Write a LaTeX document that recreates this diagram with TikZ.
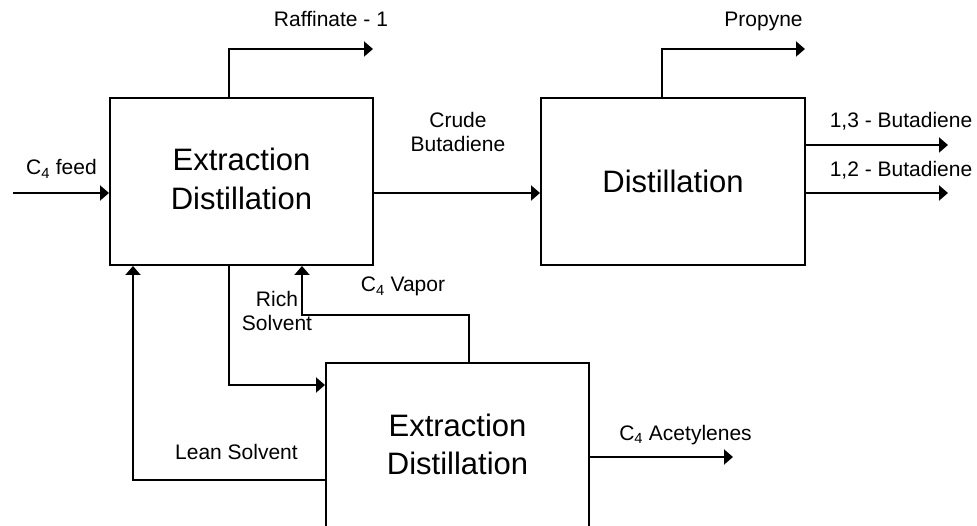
\documentclass[tikz,border=0pt]{standalone}
\usepackage{fontspec}
\setmainfont{Liberation Sans}
\usetikzlibrary{arrows.meta}
\begin{document}
\begin{tikzpicture}[x=1pt,y=-1pt,
  unitbox/.style={draw,line width=2pt,inner sep=0pt,align=center,
    font=\fontsize{31}{38.5}\selectfont},
  lbl/.style={inner sep=0pt,anchor=base,align=center,
    font=\fontsize{21}{24.5}\selectfont},
  flow/.style={line width=2pt,-{Triangle[length=9pt,width=15pt]}}]
\useasboundingbox (0,0) rectangle (977,526);
% units
\node[unitbox,minimum width=263pt,minimum height=167pt,text depth=5pt] (box1) at (241.5,181.5) {Extraction\\Distillation};
\node[unitbox,minimum width=264pt,minimum height=167pt] (box2) at (673,181.5) {Distillation};
\node[unitbox,minimum width=263pt,minimum height=170pt,text depth=7pt,anchor=north] (box3) at (457.5,362) {Extraction\\Distillation};
% helper coordinates
\coordinate (feedin) at (13,193);
\coordinate (raffturn) at (229,49);
\coordinate (raffend) at (373,49);
\coordinate (propturn) at (662,49);
\coordinate (propend) at (805,49);
\coordinate (b13end) at (948,145);
\coordinate (b12end) at (948,193);
\coordinate (leanc) at (133,480);
\coordinate (richc) at (229,385);
\coordinate (vapc) at (469,315);
\coordinate (vapc2) at (302,315);
\coordinate (acend) at (733,457);
% connectors
\draw[flow] (feedin) -- (feedin -| box1.west);
\draw[flow] (box1.north -| raffturn) |- (raffend);
\draw[flow] (box1.east |- feedin) -- (box2.west |- feedin);
\draw[flow] (box2.north -| propturn) |- (propend);
\draw[flow] (box2.east |- b13end) -- (b13end);
\draw[flow] (box2.east |- b12end) -- (b12end);
\draw[flow] (box3.west |- leanc) -| (box1.south -| leanc);
\draw[flow] (box1.south -| richc) |- (box3.west |- richc);
\draw[flow] (box3.north -| vapc) |- (vapc2) -- (box1.south -| vapc2);
\draw[flow] (box3.east |- acend) -- (acend);
% labels
\node[lbl] (lfeed) at (61.5,175) {C\textsubscript{4} feed};
\node[lbl] (lraff) at (331,27) {Raffinate - 1};
\node[lbl] (lcrude) at (458,152) {Crude\\Butadiene};
\node[lbl] (lprop) at (763.5,27) {Propyne};
\node[lbl] (l13) at (901,128) {1,3 - Butadiene};
\node[lbl] (l12) at (901,177) {1,2 - Butadiene};
\node[lbl] (lvap) at (403,292) {C\textsubscript{4} Vapor};
\node[lbl] (lrich) at (277,331) {Rich\\Solvent};
\node[lbl] (llean) at (236.5,459) {Lean Solvent};
\node[lbl] (lacet) at (685.5,440) {C\textsubscript{4} Acetylenes};
\end{tikzpicture}
\end{document}
